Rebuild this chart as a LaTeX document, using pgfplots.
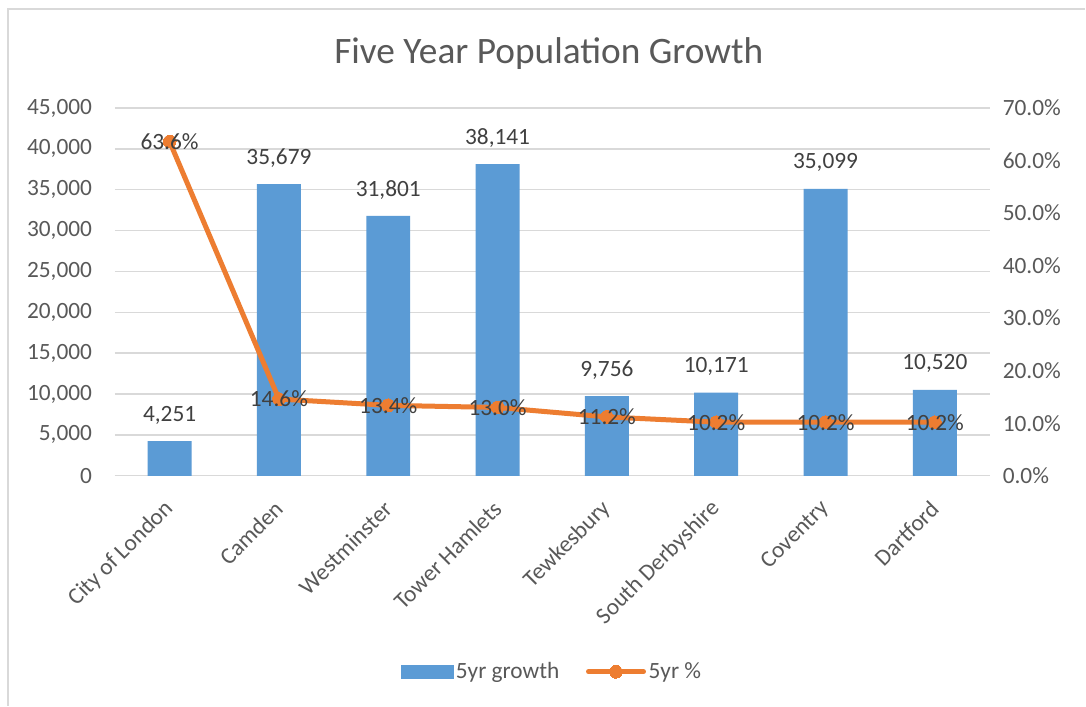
\documentclass[border=0pt]{standalone}
\usepackage{pgfplots}
\pgfplotsset{compat=1.18}
\usepackage{fontspec}
\setmainfont{Carlito}
\definecolor{barblue}{HTML}{5B9BD5}
\definecolor{lineorange}{HTML}{ED7D31}
\definecolor{gridgray}{HTML}{D9D9D9}
\definecolor{txtgray}{HTML}{595959}
\definecolor{lblgray}{HTML}{404040}
\begin{document}
\begin{tikzpicture}
\fill[white] (0,0) rectangle (814.5pt,529.5pt);
\draw[gridgray, line width=0.8pt] (6pt,0) -- (6pt,522.75pt) -- (814.5pt,522.75pt);
\node[text=txtgray, font=\fontsize{28}{33}\selectfont] at (411.75pt,489.5pt) {Five Year Population Growth};
\pgfplotsset{common/.style={
  scale only axis, width=656.25pt, height=276pt,
  at={(86.25pt,172.5pt)}, anchor=south west,
  xmin=-0.5, xmax=7.5,
  tick label style={font=\fontsize{17.5}{21}\selectfont, text=txtgray},
  /pgf/number format/assume math mode=true,
  major tick length=0pt,
}}
\begin{axis}[common,
  ymin=0, ymax=45000, ytick={0,5000,...,45000},
  scaled y ticks=false,
  yticklabel={\pgfmathprintnumber[fixed,precision=0,1000 sep={,}]{\tick}},
  axis x line*=bottom, axis y line*=left,
  y axis line style={draw=none},
  x axis line style={draw=gridgray, line width=1.1pt},
  ymajorgrids, grid style={gridgray, line width=1.1pt},
  xtick={0,...,7},
  xticklabels={City of London, Camden, Westminster, Tower Hamlets, Tewkesbury, South Derbyshire, Coventry, Dartford},
  xticklabel style={anchor=east, inner sep=0pt, yshift=-22pt, rotate=45},
  yticklabel style={anchor=east, inner sep=0pt, xshift=-17pt},
  ybar, bar width=33pt,
  nodes near coords={\pgfmathprintnumber[fixed,precision=0,1000 sep={,}]{\pgfplotspointmeta}},
  every node near coord/.append style={anchor=center, yshift=19.5pt, text=lblgray, font=\fontsize{17.5}{21}\selectfont},
]
\addplot[fill=barblue, draw=none] coordinates {(0,4251) (1,35679) (2,31801) (3,38141) (4,9756) (5,10171) (6,35099) (7,10520)};
\end{axis}
\begin{axis}[common,
  ymin=0, ymax=70, ytick={0,10,...,70},
  axis y line*=right, axis x line=none,
  y axis line style={draw=none},
  xtick=\empty,
  yticklabel={\pgfmathprintnumber[fixed,fixed zerofill,precision=1]{\tick}\%},
  yticklabel style={anchor=west, inner sep=0pt, xshift=9.75pt},
  legend columns=2,
  legend style={at={(0.5,-0.533)}, anchor=center, draw=none, fill=none,
    font=\fontsize{17.5}{21}\selectfont, text=txtgray,
    /tikz/every even column/.append style={column sep=18pt}},
]
\addlegendimage{legend image code/.code={\fill[barblue] (0pt,-4.9pt) rectangle (39pt,4.9pt);}}
\addlegendentry{5yr growth}
\addplot[lineorange, line width=3.75pt, line join=round,
  mark=*, mark size=4.8pt, mark options={fill=lineorange, draw=lineorange, line width=0pt},
  nodes near coords={\pgfmathprintnumber[fixed,fixed zerofill,precision=1]{\pgfplotspointmeta}\%},
  every node near coord/.append style={anchor=center, text=lblgray, font=\fontsize{17.5}{21}\selectfont},
  legend image code/.code={\draw[lineorange, line width=3.75pt, line cap=round, mark=*, mark size=4.8pt, mark options={fill=lineorange, draw=lineorange, line width=0pt}, mark repeat=2, mark phase=2] plot coordinates {(-1pt,0pt) (19.6pt,0pt) (40.25pt,0pt)};}
] coordinates {(0,63.6) (1,14.6) (2,13.4) (3,13.0) (4,11.2) (5,10.2) (6,10.2) (7,10.2)};
\addlegendentry{5yr \%}
\end{axis}
\end{tikzpicture}
\end{document}
